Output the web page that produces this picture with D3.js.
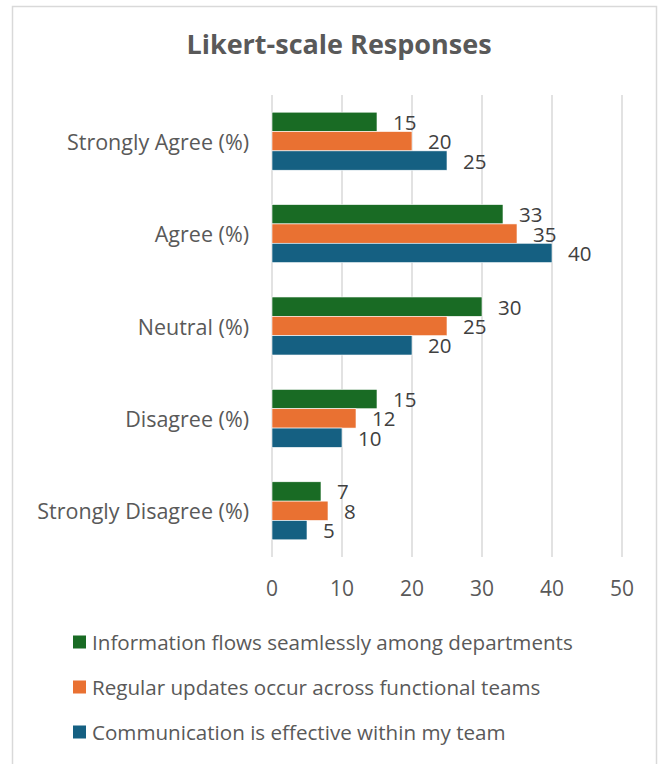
<!DOCTYPE html>
<html>
<head>
<meta charset="utf-8">
<script src="https://cdn.jsdelivr.net/npm/d3@7"></script>
<style>
  body { margin: 0; background: #fff; }
  svg { display: block; font-family: "Open Sans", sans-serif; }
</style>
</head>
<body>
<svg id="chart" width="668" height="764"></svg>
<script>
// Likert-scale responses — grouped horizontal bars, three statements

const categories = ['Strongly Agree (%)', 'Agree (%)', 'Neutral (%)', 'Disagree (%)', 'Strongly Disagree (%)'];
const seriesNames = [
    'Information flows seamlessly among departments',
    'Regular updates occur across functional teams',
    'Communication is effective within my team'
];
const seriesColors = ['#196B24', '#E97132', '#156082'];
const infoFlows   = [15, 33, 30, 15, 7];
const regularUpd  = [20, 35, 25, 12, 8];
const commEffect  = [25, 40, 20, 10, 5];
const xTicks = [0, 10, 20, 30, 40, 50];

const seriesValues = [infoFlows, regularUpd, commEffect];

const plot = { left: 272, right: 622, top: 95, bottom: 557 };

const svg = d3.select('#chart');

// ── Chart border ─────────────────────────────────────────────────────────────
svg.append('rect')
    .attr('x', 12.5).attr('y', 6.5)
    .attr('width', 644).attr('height', 800)
    .attr('fill', 'none').attr('stroke', '#D9D9D9').attr('stroke-width', 1.5);

// ── Title ────────────────────────────────────────────────────────────────────
svg.append('text')
    .attr('x', 339).attr('y', 54)
    .attr('text-anchor', 'middle')
    .attr('font-size', '27px').attr('font-weight', 'bold')
    .attr('fill', '#595959')
    .text('Likert-scale Responses');

// ── Scales ───────────────────────────────────────────────────────────────────
const x = d3.scaleLinear().domain([0, 50]).range([plot.left, plot.right]);
const y = d3.scaleBand().domain(categories).range([plot.top, plot.bottom])
    .paddingInner(0.372).paddingOuter(0.186);
const ySub = d3.scaleBand().domain(d3.range(seriesNames.length)).range([0, y.bandwidth()]);

// Gridlines
svg.append('g')
    .selectAll('line')
    .data(xTicks)
    .join('line')
    .attr('x1', d => x(d)).attr('x2', d => x(d))
    .attr('y1', plot.top).attr('y2', plot.bottom)
    .attr('stroke', '#D9D9D9').attr('stroke-width', 1.5);

// X tick labels
svg.append('g')
    .selectAll('text')
    .data(xTicks)
    .join('text')
    .attr('x', d => x(d))
    .attr('y', 588)
    .attr('text-anchor', 'middle')
    .attr('dominant-baseline', 'central')
    .attr('font-size', '21px')
    .attr('fill', '#595959')
    .text(d => d);

// Category labels
svg.append('g')
    .selectAll('text')
    .data(categories)
    .join('text')
    .attr('x', 249)
    .attr('y', d => y(d) + y.bandwidth() / 2)
    .attr('text-anchor', 'end')
    .attr('dominant-baseline', 'central')
    .attr('font-size', '21.5px')
    .attr('fill', '#595959')
    .text(d => d);

// ── Bars + value labels ──────────────────────────────────────────────────────
const rows = [];
categories.forEach((c, ci) => {
    seriesValues.forEach((vals, si) => rows.push({ cat: c, s: si, v: vals[ci] }));
});

svg.append('g')
    .selectAll('rect')
    .data(rows)
    .join('rect')
    .attr('x', x(0))
    .attr('y', d => y(d.cat) + ySub(d.s))
    .attr('width', d => x(d.v) - x(0))
    .attr('height', ySub.bandwidth())
    .attr('fill', d => seriesColors[d.s])
    .attr('stroke', '#ffffff').attr('stroke-width', 0.6);

svg.append('g')
    .selectAll('text')
    .data(rows)
    .join('text')
    .attr('x', d => x(d.v) + 16)
    .attr('y', d => y(d.cat) + ySub(d.s) + ySub.bandwidth() / 2)
    .attr('dominant-baseline', 'central')
    .attr('font-size', '20.5px')
    .attr('fill', '#404040')
    .text(d => d.v);

// ── Legend ───────────────────────────────────────────────────────────────────
const legendY = d3.scalePoint().domain(d3.range(seriesNames.length)).range([642, 732]);
const legend = svg.append('g')
    .selectAll('g')
    .data(seriesNames)
    .join('g')
    .attr('transform', (d, i) => `translate(73,${legendY(i)})`);

legend.append('rect')
    .attr('x', 0).attr('y', -6.5)
    .attr('width', 13).attr('height', 13)
    .attr('fill', (d, i) => seriesColors[i]);

legend.append('text')
    .attr('x', 19).attr('y', 0)
    .attr('dominant-baseline', 'central')
    .attr('font-size', '20.6px')
    .attr('fill', '#595959')
    .text(d => d);
</script>
</body>
</html>
